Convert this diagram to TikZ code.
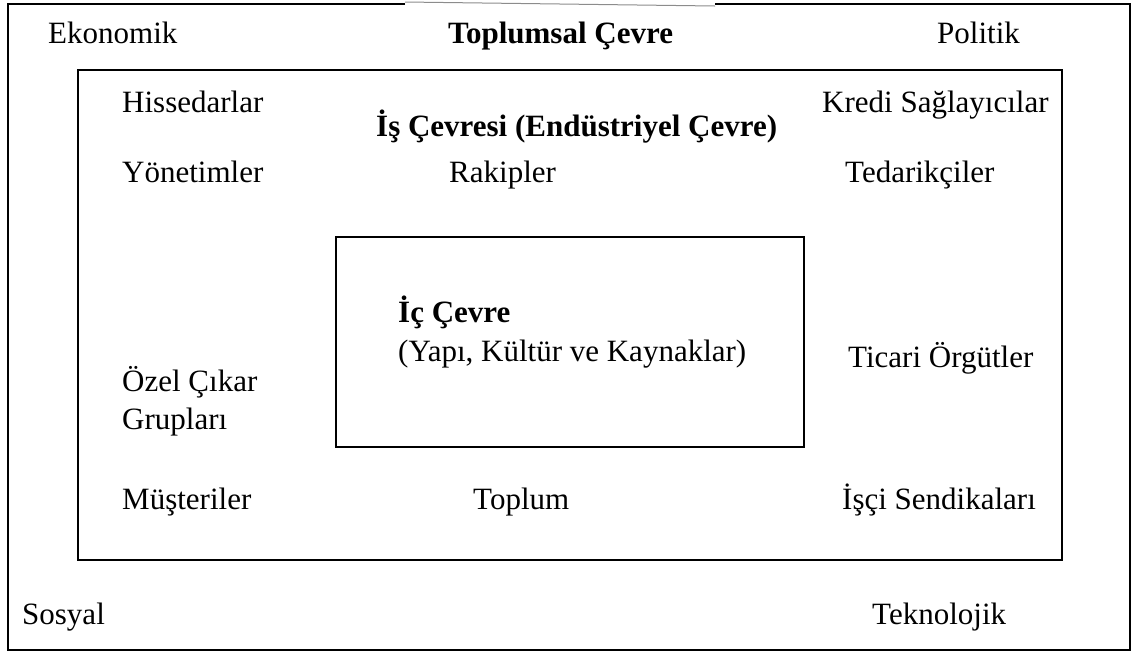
\documentclass[tikz,border=0pt]{standalone}
\usepackage{fontspec}
\setmainfont{Liberation Serif}
\begin{document}
\begin{tikzpicture}[x=1pt,y=-1pt,
  lbl/.style={anchor=base west,inner sep=0pt,font=\fontsize{31}{37}\selectfont},
  blbl/.style={lbl,font=\fontsize{31}{37}\selectfont\bfseries},
  frame/.style={draw=black,line width=1.6pt}]
\useasboundingbox (0,0) rectangle (1137,657);
% outer frame
\coordinate (o1) at (8,4);
\coordinate (o2) at (405,4);
\coordinate (o3) at (715,4);
\coordinate (o4) at (1130,4);
\coordinate (o5) at (1130,650);
\coordinate (o6) at (8,650);
\draw[frame,line width=2pt] (o2) -- (o1) -- (o6) -- (o5) -- (o4) -- (o3);
\draw[black!45,line width=1pt] (o2) ++(0,-2) -- ([yshift=-2pt]o3);
% boxes
\draw[frame] (78,70) rectangle (1062,560);
\draw[frame] (336,237) rectangle (804,447);
% outer labels
\node[lbl] (eko) at (48,43) {Ekonomik};
\node[blbl] (top) at (448,43) {Toplumsal Çevre};
\node[lbl] (pol) at (937,43) {Politik};
\node[lbl] (sos) at (22,624) {Sosyal};
\node[lbl] (tek) at (872,624) {Teknolojik};
% industry
\node[lbl] (his) at (122,112) {Hissedarlar};
\node[blbl] (is) at (376,136) {İş Çevresi (Endüstriyel Çevre)};
\node[lbl] (kre) at (822,112) {Kredi Sağlayıcılar};
\node[lbl] (yon) at (122,182) {Yönetimler};
\node[lbl] (rak) at (449,182) {Rakipler};
\node[lbl] (ted) at (845,182) {Tedarikçiler};
\node[lbl] (tic) at (848,367) {Ticari Örgütler};
\node[lbl] (oz1) at (122,391) {Özel Çıkar};
\node[lbl] (oz2) at (122,429) {Grupları};
\node[lbl] (mus) at (122,509) {Müşteriler};
\node[lbl] (topl) at (473,509) {Toplum};
\node[lbl] (isc) at (842,509) {İşçi Sendikaları};
% internal
\node[blbl] (ic) at (398,322) {İç Çevre};
\node[lbl] (yap) at (398,361) {(Yapı, Kültür ve Kaynaklar)};
\end{tikzpicture}
\end{document}
